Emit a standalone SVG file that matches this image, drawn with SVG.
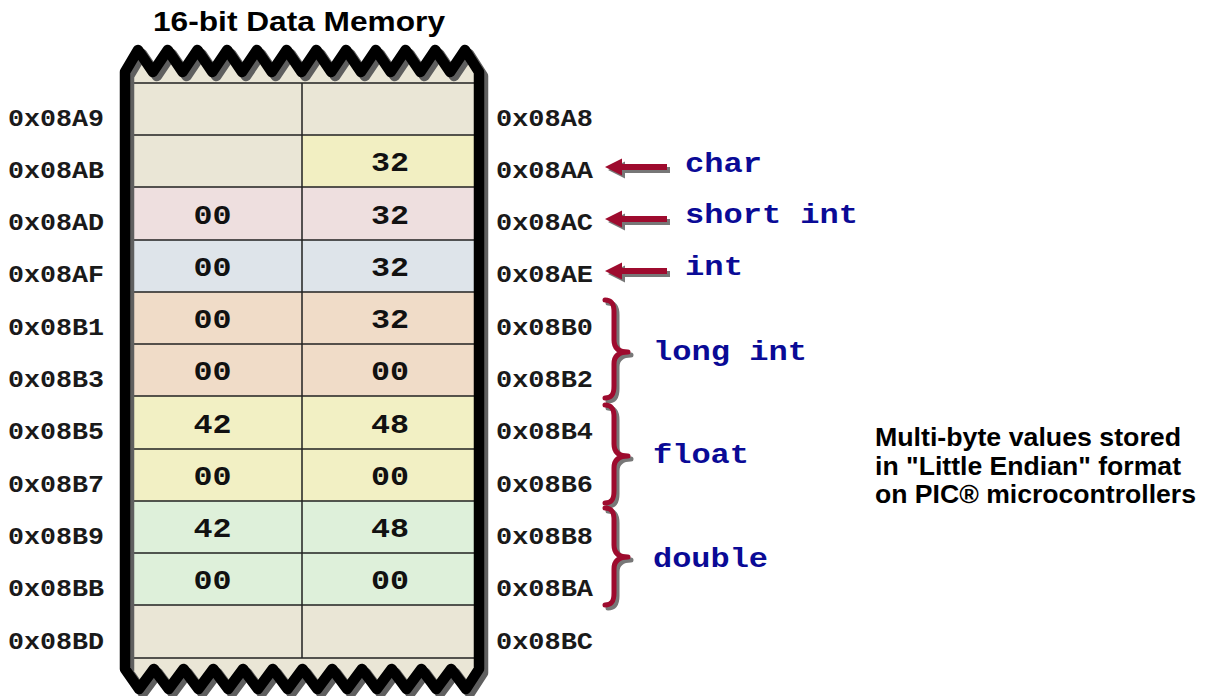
<svg xmlns="http://www.w3.org/2000/svg" width="1207" height="696" viewBox="0 0 1207 696">
<defs>
<style>
.title{font-family:"Liberation Sans",Arial,sans-serif;font-weight:bold;font-size:27px;fill:#000}
.note{font-family:"Liberation Sans",Arial,sans-serif;font-weight:bold;font-size:25px;fill:#000}
.addr{font-family:"Liberation Mono","Courier New",monospace;font-weight:bold;font-size:24px;fill:#1a1a1a}
.val{font-family:"Liberation Mono","Courier New",monospace;font-weight:bold;font-size:27px;fill:#111}
.type{font-family:"Liberation Mono","Courier New",monospace;font-weight:bold;font-size:28px;fill:#0a0a96}
.grid{stroke:#222;stroke-width:1.5;fill:none}
.beige{fill:#EAE6D6}.yel{fill:#F2EFC2}.pink{fill:#EEDFDF}.blue{fill:#DEE4EA}.peach{fill:#F0DCC8}.yel2{fill:#F2F0C4}.green{fill:#DEF0DA}
.arrow{fill:#9E0B2E}
.ashadow{fill:#777}
.brace{fill:none;stroke:#9E0B2E;stroke-width:5;stroke-linecap:round;stroke-linejoin:round}
.bshadow{fill:none;stroke:#777;stroke-width:5;stroke-linecap:round;stroke-linejoin:round}
</style>
<path id="outline" d="M125,72 L138,50 L152.86,72 L167.73,50 L182.59,72 L197.45,50 L212.32,72 L227.18,50 L242.05,72 L256.91,50 L271.77,72 L286.64,50 L301.5,72 L316.36,50 L331.23,72 L346.09,50 L360.95,72 L375.82,50 L390.68,72 L405.55,50 L420.41,72 L435.27,50 L450.14,72 L465,50 L479,72 L479,669 L466,689 L451.14,669 L436.27,689 L421.41,669 L406.55,689 L391.68,669 L376.82,689 L361.95,669 L347.09,689 L332.23,669 L317.36,689 L302.5,669 L287.64,689 L272.77,669 L257.91,689 L243.05,669 L228.18,689 L213.32,669 L198.45,689 L183.59,669 L168.73,689 L153.86,669 L139,689 L125,669 Z"/>
<path id="larrow" d="M605,167 L622,158.5 L622,164 L667,164 L667,170 L622,170 L622,175.5 Z"/>
</defs>

<text class="title" x="153" y="31" textLength="292" lengthAdjust="spacingAndGlyphs">16-bit Data Memory</text>

<g id="memory">
  <use href="#outline" class="beige"/>
  <g id="rows">
    <rect class="beige" x="133" y="83" width="341" height="52"/>
    <rect class="beige" x="133" y="135" width="169" height="52"/>
    <rect class="yel" x="302" y="135" width="172" height="52"/>
    <rect class="pink" x="133" y="187" width="341" height="53"/>
    <rect class="blue" x="133" y="240" width="341" height="52"/>
    <rect class="peach" x="133" y="292" width="341" height="104"/>
    <rect class="yel2" x="133" y="396" width="341" height="105"/>
    <rect class="green" x="133" y="501" width="341" height="104"/>
    <rect class="beige" x="133" y="605" width="341" height="53"/>
    <path class="grid" d="M133,83H474M133,135H474M133,187H474M133,240H474M133,292H474M133,344H474M133,396H474M133,449H474M133,501H474M133,553H474M133,605H474M133,658H474M302,83V658"/>
  </g>
  <use href="#outline" fill="none" stroke="#5f5f5f" stroke-width="10.5" stroke-linejoin="round" transform="translate(4,4)"/>
  <use href="#outline" fill="none" stroke="#000" stroke-width="10.5" stroke-linejoin="round"/>
  <g id="values" text-anchor="middle">
    <text class="val" x="390" y="171" textLength="38" lengthAdjust="spacingAndGlyphs">32</text>
    <text class="val" x="212.5" y="224" textLength="38" lengthAdjust="spacingAndGlyphs">00</text>
    <text class="val" x="390" y="224" textLength="38" lengthAdjust="spacingAndGlyphs">32</text>
    <text class="val" x="212.5" y="276" textLength="38" lengthAdjust="spacingAndGlyphs">00</text>
    <text class="val" x="390" y="276" textLength="38" lengthAdjust="spacingAndGlyphs">32</text>
    <text class="val" x="212.5" y="328" textLength="38" lengthAdjust="spacingAndGlyphs">00</text>
    <text class="val" x="390" y="328" textLength="38" lengthAdjust="spacingAndGlyphs">32</text>
    <text class="val" x="212.5" y="380" textLength="38" lengthAdjust="spacingAndGlyphs">00</text>
    <text class="val" x="390" y="380" textLength="38" lengthAdjust="spacingAndGlyphs">00</text>
    <text class="val" x="212.5" y="433" textLength="38" lengthAdjust="spacingAndGlyphs">42</text>
    <text class="val" x="390" y="433" textLength="38" lengthAdjust="spacingAndGlyphs">48</text>
    <text class="val" x="212.5" y="485" textLength="38" lengthAdjust="spacingAndGlyphs">00</text>
    <text class="val" x="390" y="485" textLength="38" lengthAdjust="spacingAndGlyphs">00</text>
    <text class="val" x="212.5" y="537" textLength="38" lengthAdjust="spacingAndGlyphs">42</text>
    <text class="val" x="390" y="537" textLength="38" lengthAdjust="spacingAndGlyphs">48</text>
    <text class="val" x="212.5" y="589" textLength="38" lengthAdjust="spacingAndGlyphs">00</text>
    <text class="val" x="390" y="589" textLength="38" lengthAdjust="spacingAndGlyphs">00</text>
  </g>
</g>

<g id="addr-left">
  <text class="addr" x="8" y="125.5" textLength="96" lengthAdjust="spacingAndGlyphs">0x08A9</text>
  <text class="addr" x="8" y="177.8" textLength="96" lengthAdjust="spacingAndGlyphs">0x08AB</text>
  <text class="addr" x="8" y="230.1" textLength="96" lengthAdjust="spacingAndGlyphs">0x08AD</text>
  <text class="addr" x="8" y="282.4" textLength="96" lengthAdjust="spacingAndGlyphs">0x08AF</text>
  <text class="addr" x="8" y="334.7" textLength="96" lengthAdjust="spacingAndGlyphs">0x08B1</text>
  <text class="addr" x="8" y="387" textLength="96" lengthAdjust="spacingAndGlyphs">0x08B3</text>
  <text class="addr" x="8" y="439.3" textLength="96" lengthAdjust="spacingAndGlyphs">0x08B5</text>
  <text class="addr" x="8" y="491.6" textLength="96" lengthAdjust="spacingAndGlyphs">0x08B7</text>
  <text class="addr" x="8" y="543.9" textLength="96" lengthAdjust="spacingAndGlyphs">0x08B9</text>
  <text class="addr" x="8" y="596.2" textLength="96" lengthAdjust="spacingAndGlyphs">0x08BB</text>
  <text class="addr" x="8" y="648.5" textLength="96" lengthAdjust="spacingAndGlyphs">0x08BD</text>
</g>

<g id="addr-right">
  <text class="addr" x="496" y="125.5" textLength="97" lengthAdjust="spacingAndGlyphs">0x08A8</text>
  <text class="addr" x="496" y="177.8" textLength="97" lengthAdjust="spacingAndGlyphs">0x08AA</text>
  <text class="addr" x="496" y="230.1" textLength="97" lengthAdjust="spacingAndGlyphs">0x08AC</text>
  <text class="addr" x="496" y="282.4" textLength="97" lengthAdjust="spacingAndGlyphs">0x08AE</text>
  <text class="addr" x="496" y="334.7" textLength="97" lengthAdjust="spacingAndGlyphs">0x08B0</text>
  <text class="addr" x="496" y="387" textLength="97" lengthAdjust="spacingAndGlyphs">0x08B2</text>
  <text class="addr" x="496" y="439.3" textLength="97" lengthAdjust="spacingAndGlyphs">0x08B4</text>
  <text class="addr" x="496" y="491.6" textLength="97" lengthAdjust="spacingAndGlyphs">0x08B6</text>
  <text class="addr" x="496" y="543.9" textLength="97" lengthAdjust="spacingAndGlyphs">0x08B8</text>
  <text class="addr" x="496" y="596.2" textLength="97" lengthAdjust="spacingAndGlyphs">0x08BA</text>
  <text class="addr" x="496" y="648.5" textLength="97" lengthAdjust="spacingAndGlyphs">0x08BC</text>
</g>

<g id="connectors">
  <use href="#larrow" class="ashadow" transform="translate(3,3)"/>
  <use href="#larrow" class="arrow"/>
  <use href="#larrow" class="ashadow" transform="translate(3,55)"/>
  <use href="#larrow" class="arrow" transform="translate(0,52)"/>
  <use href="#larrow" class="ashadow" transform="translate(3,107)"/>
  <use href="#larrow" class="arrow" transform="translate(0,104)"/>
  <g transform="translate(3,3)">
    <path class="bshadow" d="M605,300 C612,300 614,304 614,312 L614,340 C614,348 619,352 628,352 C619,352 614,356 614,364 L614,386 C614,394 612,398 605,398"/>
    <path class="bshadow" d="M605,405 C612,405 614,409 614,417 L614,444 C614,452 619,456 628,456 C619,456 614,460 614,468 L614,491 C614,499 612,503 605,503"/>
    <path class="bshadow" d="M605,508 C612,508 614,512 614,520 L614,545 C614,553 619,557 628,557 C619,557 614,561 614,569 L614,593 C614,601 612,605 605,605"/>
  </g>
  <path class="brace" d="M605,300 C612,300 614,304 614,312 L614,340 C614,348 619,352 628,352 C619,352 614,356 614,364 L614,386 C614,394 612,398 605,398"/>
  <path class="brace" d="M605,405 C612,405 614,409 614,417 L614,444 C614,452 619,456 628,456 C619,456 614,460 614,468 L614,491 C614,499 612,503 605,503"/>
  <path class="brace" d="M605,508 C612,508 614,512 614,520 L614,545 C614,553 619,557 628,557 C619,557 614,561 614,569 L614,593 C614,601 612,605 605,605"/>
</g>

<g id="type-labels">
  <text id="t-char" class="type" x="685" y="172" textLength="77" lengthAdjust="spacingAndGlyphs">char</text>
  <text id="t-short" class="type" x="685" y="223" textLength="173" lengthAdjust="spacingAndGlyphs">short int</text>
  <text id="t-int" class="type" x="685" y="275" textLength="58" lengthAdjust="spacingAndGlyphs">int</text>
  <text id="t-long" class="type" x="653" y="360" textLength="154" lengthAdjust="spacingAndGlyphs">long int</text>
  <text id="t-float" class="type" x="653" y="463" textLength="96" lengthAdjust="spacingAndGlyphs">float</text>
  <text id="t-double" class="type" x="653" y="567" textLength="115" lengthAdjust="spacingAndGlyphs">double</text>
</g>

<g id="note">
  <text class="note" x="875" y="445.5" textLength="306" lengthAdjust="spacingAndGlyphs">Multi-byte values stored</text>
  <text class="note" x="875" y="474.5" textLength="306" lengthAdjust="spacingAndGlyphs">in "Little Endian" format</text>
  <text class="note" x="875" y="503" textLength="321" lengthAdjust="spacingAndGlyphs">on PIC® microcontrollers</text>
</g>
</svg>
